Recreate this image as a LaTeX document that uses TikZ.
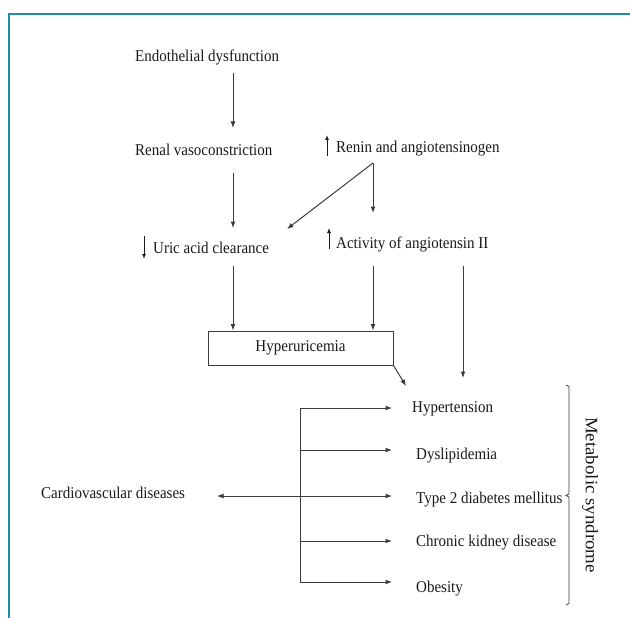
\documentclass[tikz,border=0pt]{standalone}
\usepackage{fontspec}
\setmainfont[FakeStretch=0.91]{Liberation Serif}
\newfontfamily\msfont[FakeStretch=1.08]{Liberation Serif}
\usetikzlibrary{arrows.meta}
\definecolor{framec}{RGB}{30,140,165}
\definecolor{ink}{RGB}{25,25,25}
\definecolor{linec}{RGB}{60,60,60}
\begin{document}
\begin{tikzpicture}[x=1pt,y=-1pt,
  txt/.style={inner sep=0pt, anchor=base west, text=ink, font=\fontsize{16.5}{19}\selectfont},
  arr/.style={draw=linec, line width=1pt, -{Latex[length=6.5pt,width=5pt]}},
  mini/.style={draw=ink, line width=0.9pt, -{Latex[length=5pt,width=4pt]}},
  plain/.style={draw=linec, line width=1pt}]
\useasboundingbox (0,0) rectangle (630,618);
% frame
\draw[framec, line width=1.6pt] (8,14) -- (630,14);
\draw[framec, line width=1.6pt] (9,14) -- (9,618);
% nodes
\node[txt] (endo) at (135,62) {Endothelial dysfunction};
\node[txt] (renal) at (135,156) {Renal vasoconstriction};
\node[txt] (uric) at (153,253) {Uric acid clearance};
\node[txt] (renin) at (336,153) {Renin and angiotensinogen};
\node[txt] (act) at (336,248) {Activity of angiotensin II};
\node[draw=linec, line width=1pt, minimum width=185pt, minimum height=34pt, inner sep=0pt,
      text=ink, font=\fontsize{16.5}{19}\selectfont] (hyper) at (300.5,348) {Hyperuricemia};
\node[txt] (htn) at (412,412) {Hypertension};
\node[txt] (dys) at (416,459) {Dyslipidemia};
\node[txt] (t2d) at (416,503) {Type 2 diabetes mellitus};
\node[txt] (ckd) at (416,546) {Chronic kidney disease};
\node[txt] (obe) at (416,592) {Obesity};
\node[txt] (cvd) at (41,498) {Cardiovascular diseases};
\node[inner sep=0pt, text=ink, font=\msfont\fontsize{17.5}{20}\selectfont, rotate=-90] (ms) at (590,495) {Metabolic syndrome};
% small up/down marks
\draw[mini] ([xshift=-9pt,yshift=17pt]uric.base west) -- ([xshift=-9pt,yshift=-6pt]uric.base west);
\draw[mini] ([xshift=-9pt,yshift=-3pt]renin.base west) -- ([xshift=-9pt,yshift=18pt]renin.base west);
\draw[mini] ([xshift=-7pt,yshift=-1pt]act.base west) -- ([xshift=-7pt,yshift=20pt]act.base west);
% coordinates
\coordinate (e1) at (233,73);  \coordinate (e2) at (233,128);
\coordinate (r1) at (233,173); \coordinate (r2) at (233,228);
\coordinate (sp) at (373,163); \coordinate (s1) at (373,213); \coordinate (s2) at (287,229);
\coordinate (u1) at (233,266); \coordinate (a1) at (373,266);
\coordinate (a2) at (463,266); \coordinate (a3) at (463,378);
\coordinate (h1) at (406,386);
\coordinate (b1) at (300,408); \coordinate (b2) at (300,450); \coordinate (b3) at (300,496);
\coordinate (b4) at (300,541); \coordinate (b5) at (300,582);
\coordinate (tx) at (392,0);
\coordinate (cv) at (217,496);
% connectors
\draw[arr] (e1) -- (e2);
\draw[arr] (r1) -- (r2);
\draw[arr] (sp) -- (s1);
\draw[arr] (sp) -- (s2);
\draw[arr] (u1) -- (hyper.north -| u1);
\draw[arr] (a1) -- (hyper.north -| a1);
\draw[arr] (a2) -- (a3);
\draw[arr] (hyper.south east) -- (h1);
\draw[plain] (b1) -- (b5);
\draw[arr] (b1) -- (b1 -| tx);
\draw[arr] (b2) -- (b2 -| tx);
\draw[draw=linec, line width=1pt, {Latex[length=6.5pt,width=5pt]}-{Latex[length=6.5pt,width=5pt]}] (cv) -- (b3 -| tx);
\draw[arr] (b4) -- (b4 -| tx);
\draw[arr] (b5) -- (b5 -| tx);
% brace
\draw[draw=linec, line width=0.8pt] (566,385) -- (569,386.5) -- (569,494) -- (566,495.5) -- (569,497) -- (569,603.5) -- (566,605);
\end{tikzpicture}
\end{document}
